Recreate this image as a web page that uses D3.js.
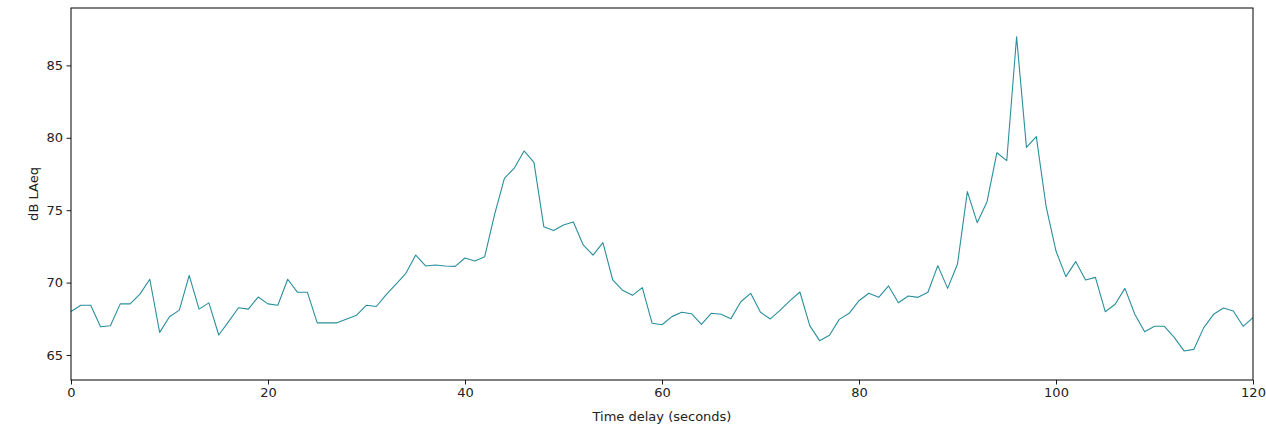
<!DOCTYPE html>
<html>
<head>
<meta charset="utf-8">
<script src="https://cdn.jsdelivr.net/npm/d3@7"></script>
<style>
body{margin:0;background:#fff;}
text{font-family:"DejaVu Sans",sans-serif;}
</style>
</head>
<body>
<div id="root"></div>
<script>
// data: one LAeq reading per second
var seconds = d3.range(0,121);
var laeq = [
 68.0,68.44,68.44,66.95,67.02,68.53,68.53,69.2,70.23,66.56,
 67.64,68.1,70.5,68.17,68.6,66.38,67.3,68.26,68.17,69.0,
 68.53,68.44,70.23,69.33,69.33,67.22,67.22,67.22,67.48,67.75,
 68.44,68.35,69.17,69.9,70.64,71.9,71.15,71.22,71.15,71.12,
 71.7,71.49,71.79,74.7,77.2,77.9,79.09,78.3,73.86,73.6,
 73.98,74.19,72.6,71.9,72.76,70.18,69.47,69.12,69.65,67.19,
 67.09,67.65,67.95,67.85,67.12,67.88,67.81,67.51,68.68,69.26,
 67.95,67.49,68.1,68.75,69.35,67.03,65.99,66.36,67.46,67.88,
 68.75,69.26,68.98,69.77,68.61,69.07,68.98,69.33,71.17,69.6,
 71.28,76.28,74.14,75.59,78.97,78.42,86.98,79.34,80.08,75.24,
 72.18,70.41,71.45,70.18,70.36,67.99,68.5,69.6,67.81,66.61,
 66.98,66.98,66.22,65.28,65.39,66.89,67.81,68.25,68.04,66.98,
 67.58];
var xTicks = [0,20,40,60,80,100,120];
var yTicks = [65,70,75,80,85];

var b={t:8,r:13,b:46,l:71};
var W=1266,H=426;
var w=W-b.l-b.r, h=H-b.t-b.b;

var svg=d3.select('#root').append('svg').attr('width',W).attr('height',H);
var g=svg.append('g').attr('transform','translate('+b.l+','+b.t+')');

var x=d3.scaleLinear().domain([0,120]).range([0,w]);
var y=d3.scaleLinear().domain([63.273,88.964]).range([h,0]);

var xAxis=g.append('g').attr('transform','translate(0,'+h+')')
  .call(d3.axisBottom(x).tickValues(xTicks).tickSize(4.5).tickPadding(3.5));
var yAxis=g.append('g')
  .call(d3.axisLeft(y).tickValues(yTicks).tickSize(4.5).tickPadding(3.5));
[xAxis,yAxis].forEach(function(a){
  a.select('.domain').remove();
  a.selectAll('line').attr('stroke','#000').attr('stroke-width',0.9);
  a.selectAll('text').attr('font-size',13).attr('fill','#222').style('font-family','"DejaVu Sans",sans-serif');
});

var line=d3.line().x(function(d,i){return x(seconds[i])}).y(function(d){return y(d)});
g.append('path').datum(laeq).attr('d',line).attr('fill','none')
  .attr('stroke','#2a8f9d').attr('stroke-width',1.1).attr('stroke-linejoin','round');

g.append('rect').attr('x',0).attr('y',0).attr('width',w).attr('height',h)
  .attr('fill','none').attr('stroke','#000').attr('stroke-width',1);

svg.append('text').attr('x',b.l+w/2).attr('y',421).attr('text-anchor','middle')
  .attr('font-size',13).attr('fill','#222').text('Time delay (seconds)');
svg.append('text').attr('transform','translate(38,'+(b.t+h/2)+') rotate(-90)')
  .attr('text-anchor','middle').attr('font-size',13).attr('fill','#222').text('dB LAeq');
</script>
</body>
</html>
